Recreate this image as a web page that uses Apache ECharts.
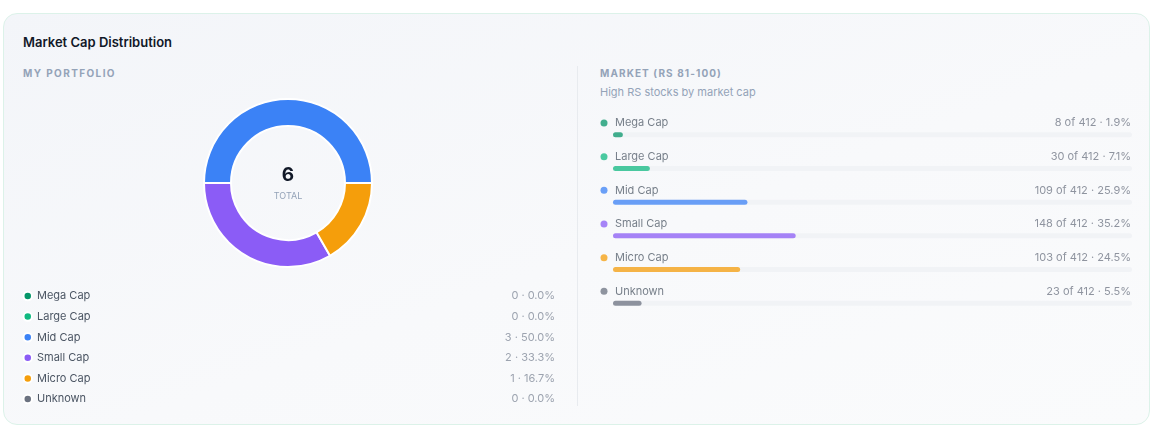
<!DOCTYPE html>
<html>
<head>
<meta charset="utf-8">
<script src="https://cdn.jsdelivr.net/npm/echarts@6/dist/echarts.min.js"></script>
<style>
    html, body { margin: 0; padding: 0; background: #ffffff; font-family: Inter, "Noto Sans", sans-serif; }
    .card {
        position: absolute; left: 3px; top: 13px; width: 1145px; height: 410px;
        border: 1px solid #dcf2e9; border-radius: 14px;
        background: linear-gradient(160deg, #f3f5f9 0%, #f8f9fb 55%, #fafbfc 100%);
    }
    .title { position: absolute; left: 23px; top: 34px; font-size: 13px; font-weight: 600; color: #111827; }
    .section { position: absolute; top: 67px; font-size: 10px; font-weight: 700; letter-spacing: 1.4px; color: #94a3b8; }
    .sub { position: absolute; left: 600px; top: 85px; font-size: 11px; color: #94a3b8; }
    .divider { position: absolute; left: 577px; top: 66px; width: 1px; height: 340px; background: #e8ebef; }
    #chart { position: absolute; left: 0; top: 0; width: 1153px; height: 432px; }
</style>
</head>
<body>
<div class="card"></div>
<div class="title">Market Cap Distribution</div>
<div class="section" style="left:23px;">MY PORTFOLIO</div>
<div class="section" style="left:600px; letter-spacing:1.1px;">MARKET (RS 81-100)</div>
<div class="sub">High RS stocks by market cap</div>
<div class="divider"></div>
<div id="chart"></div>
<script>
// 市值分类
var categories = ['Mega Cap', 'Large Cap', 'Mid Cap', 'Small Cap', 'Micro Cap', 'Unknown'];
var colors = ['#059669', '#10b981', '#3b82f6', '#8b5cf6', '#f59e0b', '#6b7280'];

// 我的持仓
var portfolioCounts = [0, 0, 3, 2, 1, 0];
var portfolioPct = [0.0, 0.0, 50.0, 33.3, 16.7, 0.0];

// 市场 (RS 81-100)
var marketTotal = 412;
var marketCounts = [8, 30, 109, 148, 103, 23];
var marketPct = [1.9, 7.1, 25.9, 35.2, 24.5, 5.5];

var portfolioTotal = 0;
for (var i = 0; i < portfolioCounts.length; i++) {
    portfolioTotal += portfolioCounts[i];
}

var pieData = [];
var barData = [];
var labelRich = {
    s: { width: 7.5, fontSize: 11 },
    n: { width: 366, fontSize: 11, color: '#4b5563', lineHeight: 14 },
    v: { width: 150, fontSize: 11, color: '#6b7280', align: 'right', lineHeight: 14 }
};
for (var i = 0; i < categories.length; i++) {
    pieData.push({
        name: categories[i],
        value: portfolioCounts[i],
        itemStyle: { color: colors[i] }
    });
    barData.push({
        value: marketPct[i],
        itemStyle: { color: colors[i], opacity: 0.75 }
    });
    labelRich['d' + i] = { width: 7, height: 7, borderRadius: 3.5, backgroundColor: colors[i] };
}

function legendText(name) {
    var idx = categories.indexOf(name);
    return '{n|' + name + '}{v|' + portfolioCounts[idx] + ' · ' + portfolioPct[idx].toFixed(1) + '%}';
}

var chart = echarts.init(document.getElementById('chart'), null, { renderer: 'canvas' });

var option = {
    backgroundColor: 'transparent',
    animation: false,
    textStyle: { fontFamily: 'Inter' },
    legend: {
        orient: 'vertical',
        left: 22.5,
        top: 290.5,
        padding: 0,
        icon: 'circle',
        itemWidth: 8.5,
        itemHeight: 8.5,
        itemGap: 9.6,
        selectedMode: false,
        data: categories,
        formatter: legendText,
        textStyle: {
            rich: {
                n: { width: 413, fontSize: 11, color: '#4b5563', lineHeight: 14, fontFamily: 'Inter' },
                v: { width: 105, fontSize: 11, color: '#9ca3af', align: 'right', lineHeight: 14, fontFamily: 'Inter' }
            }
        }
    },
    graphic: [
        {
            type: 'text',
            style: { text: String(portfolioTotal), x: 288, y: 175, font: '700 19px Inter', fill: '#111827', textAlign: 'center', textVerticalAlign: 'middle' }
        },
        {
            type: 'text',
            style: { text: 'TOTAL', x: 288, y: 196, font: '400 9px Inter', fill: '#94a3b8', textAlign: 'center', textVerticalAlign: 'middle' }
        }
    ],
    grid: {
        left: 613,
        right: 21,
        top: 118,
        height: 202
    },
    xAxis: {
        type: 'value',
        min: 0,
        max: 100,
        show: false
    },
    yAxis: {
        type: 'category',
        data: categories,
        inverse: true,
        show: false
    },
    series: [
        {
            type: 'pie',
            center: [288, 183],
            radius: [57, 84],
            clockwise: false,
            startAngle: 0,
            silent: true,
            label: { show: false },
            labelLine: { show: false },
            itemStyle: { borderColor: '#ffffff', borderWidth: 2 },
            data: pieData
        },
        {
            type: 'bar',
            barWidth: 5,
            silent: true,
            showBackground: true,
            backgroundStyle: { color: '#f1f3f6', borderRadius: 3 },
            itemStyle: { borderRadius: 3 },
            data: barData,
            label: {
                show: true,
                position: [-12.5, -16.3],
                align: 'left',
                verticalAlign: 'top',
                formatter: function (p) {
                    var i = p.dataIndex;
                    return '{d' + i + '| }{s| }{n|' + categories[i] + '}{v|' +
                        marketCounts[i] + ' of ' + marketTotal + ' · ' + marketPct[i].toFixed(1) + '%}';
                },
                rich: labelRich
            }
        }
    ]
};

chart.setOption(option);
</script>
</body>
</html>
